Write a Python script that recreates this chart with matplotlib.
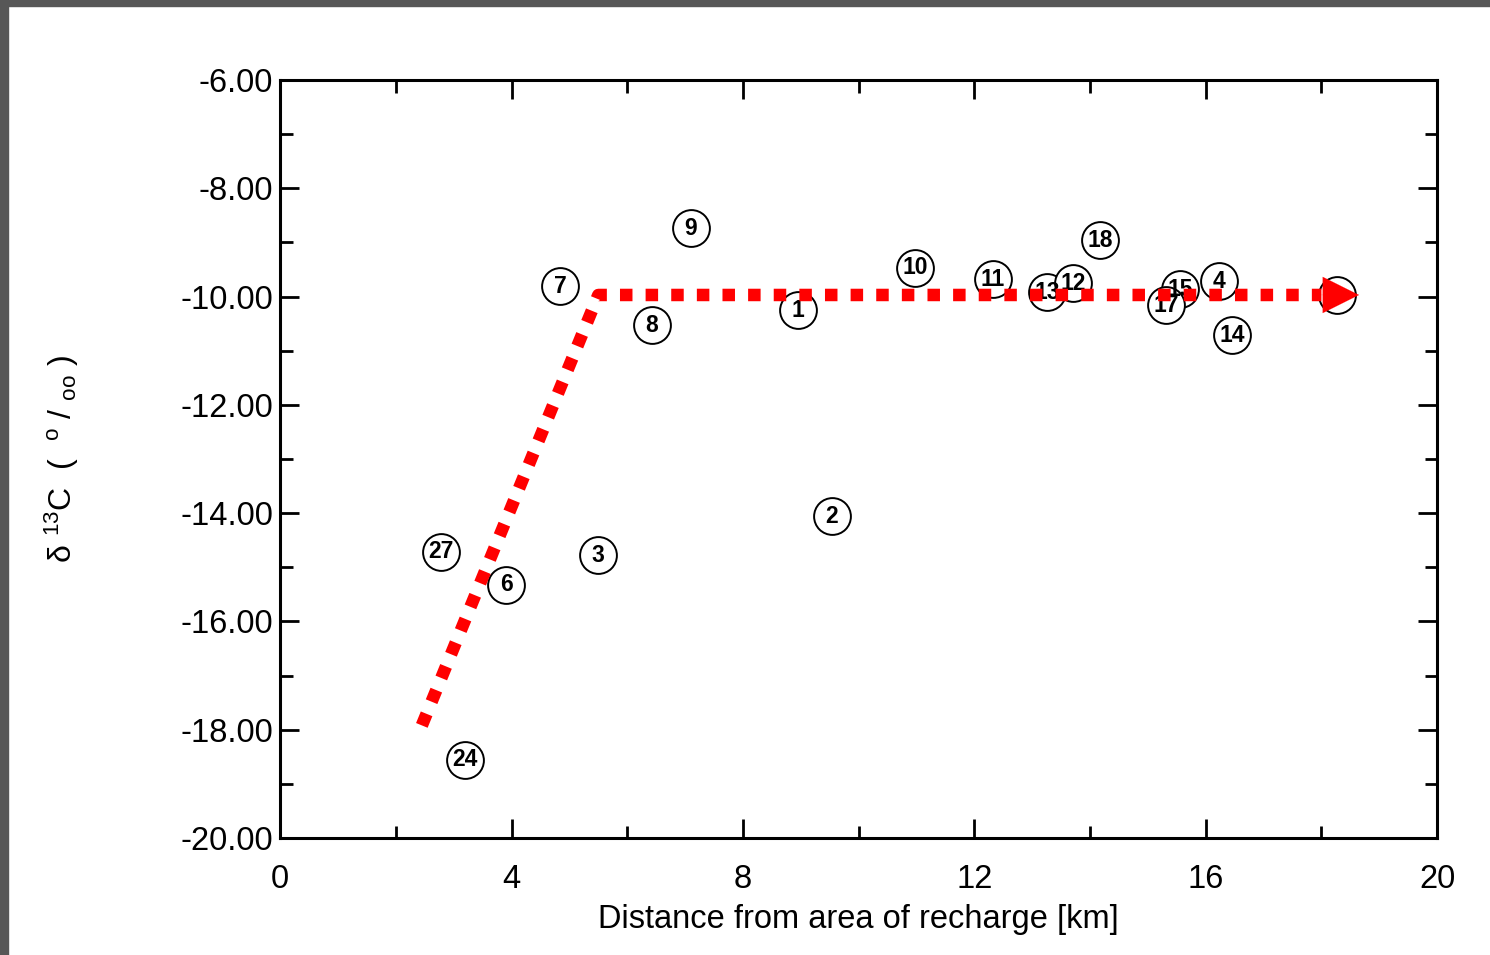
import matplotlib.pyplot as plt
from matplotlib.patches import Rectangle
from matplotlib.ticker import MultipleLocator

plt.rcParams['font.family'] = ['Liberation Sans', 'DejaVu Sans']
plt.rcParams['mathtext.fontset'] = 'custom'
plt.rcParams['mathtext.rm'] = 'Liberation Sans'
plt.rcParams['mathtext.it'] = 'Liberation Sans'

# wells: label, distance [km], delta 13C [permil]
labels = ['9', '7', '8', '1', '10', '11', '13', '12', '18', '15', '17', '4', '14', '',
          '2', '3', '27', '6', '24']
distance = [7.10, 4.84, 6.43, 8.95, 10.98, 12.32, 13.26, 13.71, 14.17, 15.56, 15.32, 16.23,
            16.46, 18.27, 9.54, 5.50, 2.78, 3.91, 3.20]
d13c = [-8.74, -9.81, -10.53, -10.25, -9.47, -9.68, -9.92, -9.75, -8.96, -9.86, -10.16,
        -9.72, -10.71, -9.97, -14.06, -14.78, -14.71, -15.32, -18.55]

# trend line (red dotted)
trend_x = [2.45, 5.50, 18.0]
trend_y = [-17.92, -9.97, -9.97]
arrow_tip = (18.65, -9.97)

fig = plt.figure(figsize=(14.9, 9.55), dpi=100)
fig.patch.set_facecolor('white')
# scan border
fig.patches.append(Rectangle((0, 1 - 6 / 955), 1, 6 / 955, transform=fig.transFigure,
                             color='#575757', zorder=0))
fig.patches.append(Rectangle((0, 0), 8 / 1490, 1, transform=fig.transFigure,
                             color='#575757', zorder=0))

ax = fig.add_axes([0.188, 0.1225, 0.7765, 0.7937])

for xi, yi in zip(distance, d13c):
    ax.plot(xi, yi, 'o', ms=26.5, mfc='white', mec='black', mew=1.4, zorder=2)
for lab, xi, yi in zip(labels, distance, d13c):
    ax.text(xi, yi, lab, ha='center', va='center', fontsize=16.5, fontweight='bold', zorder=3)

ax.plot(trend_x, trend_y, color='#ff0000', lw=9, linestyle=(0, (1, 1.05)),
        dash_capstyle='butt', zorder=4)
ax.annotate('', xy=arrow_tip, xytext=(trend_x[-1] - 0.05, trend_y[-1]),
            arrowprops=dict(arrowstyle='-|>,head_length=1.3,head_width=0.65',
                            mutation_scale=20, color='#ff0000', lw=0.1,
                            shrinkA=0, shrinkB=0), zorder=5)

ax.set_xlim(0, 20)
ax.set_ylim(-20, -6)
ax.xaxis.set_major_locator(MultipleLocator(4))
ax.xaxis.set_minor_locator(MultipleLocator(2))
ax.yaxis.set_major_locator(MultipleLocator(2))
ax.yaxis.set_minor_locator(MultipleLocator(1))
ax.yaxis.set_major_formatter(lambda v, p: f'{v:.2f}')

ax.tick_params(which='both', direction='in', top=True, right=True, width=2, labelsize=23.5)
ax.tick_params(which='major', length=14)
ax.tick_params(which='minor', length=9)
ax.tick_params(axis='x', pad=19)
ax.tick_params(axis='y', pad=5)
for s in ax.spines.values():
    s.set_linewidth(2.2)

ax.set_xlabel('Distance from area of recharge [km]', fontsize=23.5)
ax.xaxis.set_label_coords(0.5, -0.087)
ax.set_ylabel(r'$\delta$ $^{13}$C  (  $^{o}$ / $_{oo}$ )', fontsize=23)
ax.yaxis.set_label_coords(-0.172, 0.5)

fig.savefig('out.png', dpi=100)
